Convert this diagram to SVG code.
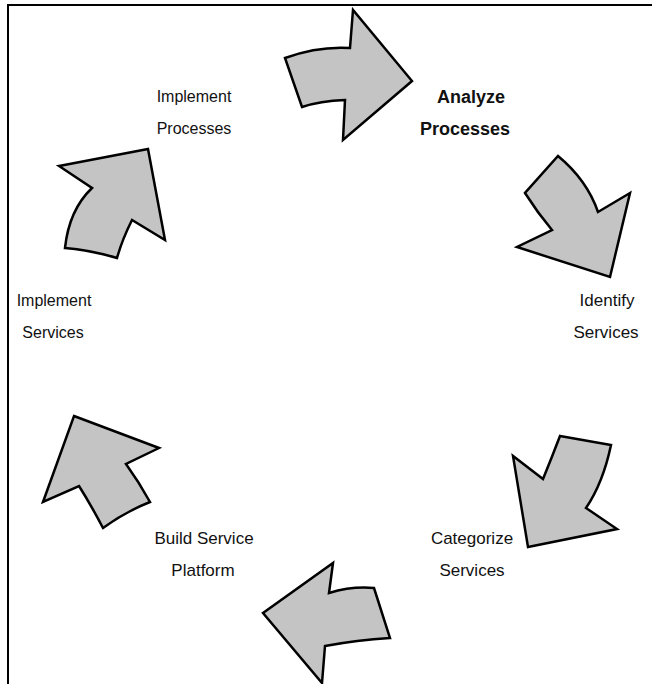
<svg xmlns="http://www.w3.org/2000/svg" width="652" height="684" viewBox="0 0 652 684">
<style>
.frame{fill:none;stroke:#000;stroke-width:2}
.arrow{fill:#c4c4c4;stroke:#000;stroke-width:2.5;stroke-linejoin:miter}
.lbl{font-family:"Liberation Sans",Arial,sans-serif;font-size:17px;fill:#111;text-anchor:middle}
.s{font-size:16px}
.b{font-weight:bold;font-size:18px}
</style>
<rect width="652" height="684" fill="#fff"/>
<rect class="frame" x="8" y="5" width="660" height="700"/>
<g id="connectors">
<path id="a1" class="arrow" d="M285,58 Q318,46 350,48 L353,10 L412,81 L343,140 L345,100 Q320,101 302,107 Z"/>
<path id="a2" class="arrow" d="M558,156 Q587,180 598,212 L630,193 L610,277 L517,247 L552,230 Q537,212 525,193 Z"/>
<path id="a3" class="arrow" d="M560,436 L611,445 Q603,483 586,508 L617,529 L528,547 L513,456 L543,479 Q552,457 560,436 Z"/>
<path id="a4" class="arrow" d="M333,563 L329,593 Q352,586 374,588 L390,638 Q357,640 325,646 L322,683 L263,613 Z"/>
<path id="a5" class="arrow" d="M74,416 L159,448 L126,464 Q139,482 150,502 Q125,512 103,528 Q91,505 79,486 L43,502 Z"/>
<path id="a6" class="arrow" d="M59,166 L148,149 L165,240 L132,220 Q122,240 117,258 Q90,250 65,248 Q69,210 92,188 Z"/>
</g>
<g id="n-implement-processes"><text class="lbl s" x="194" y="102">Implement</text><text class="lbl s" x="194" y="134">Processes</text></g>
<g id="n-analyze-processes"><text class="lbl b" x="471" y="103">Analyze</text><text class="lbl b" x="465" y="135">Processes</text></g>
<g id="n-identify-services"><text class="lbl" x="607" y="306">Identify</text><text class="lbl" x="606" y="338">Services</text></g>
<g id="n-categorize-services"><text class="lbl" x="472" y="544">Categorize</text><text class="lbl" x="472" y="576">Services</text></g>
<g id="n-build-service-platform"><text class="lbl" x="204" y="544">Build Service</text><text class="lbl" x="203" y="576">Platform</text></g>
<g id="n-implement-services"><text class="lbl s" x="54" y="306">Implement</text><text class="lbl s" x="53" y="338">Services</text></g>
</svg>
